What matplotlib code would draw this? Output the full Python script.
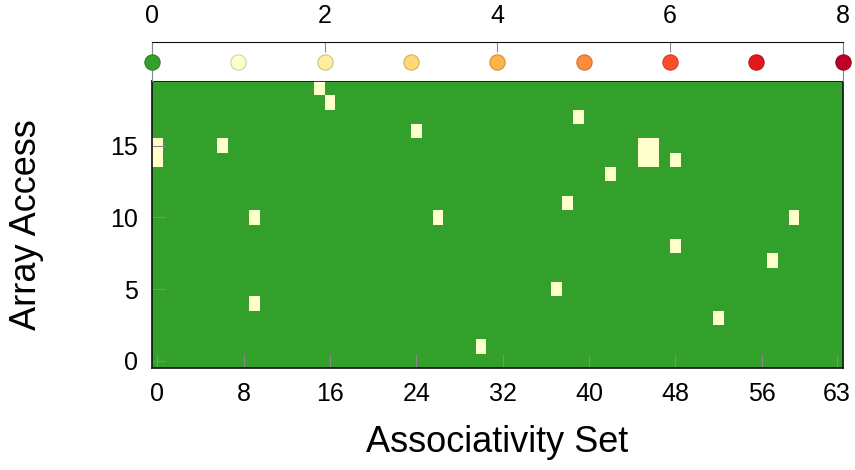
import matplotlib
matplotlib.use("Agg")
import matplotlib.pyplot as plt
import numpy as np
from matplotlib.colors import ListedColormap, BoundaryNorm, to_rgb

plt.rcParams['font.family'] = ['Liberation Sans', 'DejaVu Sans']

# ---- data ----
n_sets = 64
n_accesses = 20
hit_sets = [15, 16, 24, 0, 0, 6, 9, 26, 9, 30, 39, 45, 46, 45, 46, 48, 42, 38, 59, 48, 57, 37, 52]
hit_accesses = [19, 18, 16, 15, 14, 15, 10, 10, 4, 1, 17, 15, 15, 14, 14, 14, 13, 11, 10, 8, 7, 5, 3]
hit_counts = [1] * len(hit_sets)

level_values = [0, 1, 2, 3, 4, 5, 6, 7, 8]
level_colors = ['#33a02c', '#ffffcc', '#ffeda0', '#fed976', '#feb24c',
                '#fd8d3c', '#fc4e2a', '#e31a1c', '#bd0026']

x_ticks = [0, 8, 16, 24, 32, 40, 48, 56, 63]
y_ticks = [0, 5, 10, 15]
scale_ticks = [0, 2, 4, 6, 8]

xlabel = 'Associativity Set'
ylabel = 'Array Access'

# ---- build grid ----
grid = np.zeros((n_accesses, n_sets))
for s, a, c in zip(hit_sets, hit_accesses, hit_counts):
    grid[a, s] = c

cmap = ListedColormap(level_colors)
norm = BoundaryNorm(np.arange(-0.5, len(level_colors) + 0.5, 1), cmap.N)

W, H = 855, 470
fig = plt.figure(figsize=(W / 100, H / 100), dpi=100)
ax = fig.add_axes([152 / W, 1 - 368 / H, 690.5 / W, 287 / H])
cax = fig.add_axes([152 / W, 1 - 81 / H, 690.5 / W, 39 / H])

ax.pcolormesh(np.arange(-0.5, n_sets), np.arange(-0.5, n_accesses), grid,
              cmap=cmap, norm=norm, edgecolors='none', antialiased=False)
ax.set_xlim(-0.5, n_sets - 0.5)
ax.set_ylim(-0.5, n_accesses - 0.5)
ax.set_xticks(x_ticks)
ax.set_yticks(y_ticks)
ax.tick_params(direction='in', length=10, width=0.8, color='#888888',
               labelsize=18, pad=10)
for sp in ax.spines.values():
    sp.set_color('#111111')
    sp.set_linewidth(1.2)
ax.set_xlabel(xlabel, fontsize=26)
ax.set_ylabel(ylabel, fontsize=26)
ax.xaxis.set_label_coords(0.5, -0.2)
ax.yaxis.set_label_coords(-0.156, 0.5)

# ---- top colour legend axis ----
cax.set_xlim(0, 8)
cax.set_ylim(0, 1)
for v, col in zip(level_values, level_colors):
    edge = tuple(np.array(to_rgb(col)) * 0.82)
    cax.plot([v], [0.5], 'o', ms=11, mfc=col, mec=edge, mew=0.8, clip_on=False, zorder=5)
cax.xaxis.tick_top()
cax.set_xticks(scale_ticks)
cax.set_yticks([])
cax.tick_params(axis='x', direction='in', length=7.5, width=0.8, color='#888888',
                labelsize=18, pad=10)
cax.spines['bottom'].set_visible(False)
cax.spines['top'].set_color('#111111')
cax.spines['left'].set_color('#888888')
cax.spines['right'].set_color('#888888')

fig.savefig('out.png', dpi=100)
